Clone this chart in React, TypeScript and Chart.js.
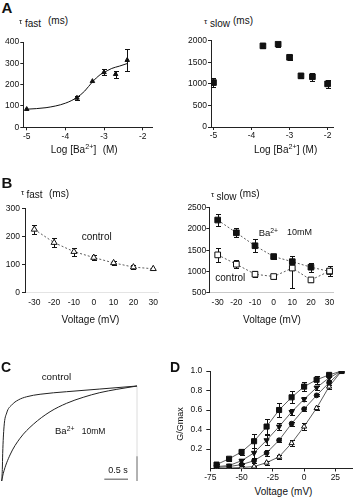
import React, { useEffect, useRef } from 'react';
import { Chart, registerables } from 'chart.js';

Chart.register(...registerables);

// ---------- Panel A (left): tau fast vs log[Ba2+]
const A_FAST_CONC = [-5, -3.7, -3.3, -3, -2.7, -2.4];
const A_FAST_TAU = [85, 138, 216, 258, 249, 315];
const A_FAST_ERR = [0, 10, 0, 15, 16, 50];
const A_FIT_CONC = [-5, -4.5, -4, -3.7, -3.5, -3.3, -3.1, -3, -2.8, -2.6, -2.4];
const A_FIT_TAU = [85, 92, 113, 140, 170, 213, 247, 257, 276, 287, 299];
const A_X_TICKS = [-5, -4, -3, -2];
const A_FAST_Y_TICKS = [0, 100, 200, 300, 400];

// ---------- Panel A (right): tau slow vs log[Ba2+]
const A_SLOW_CONC = [-5, -3.7, -3.3, -3, -2.7, -2.4, -2];
const A_SLOW_TAU = [1030, 1880, 1920, 1615, 1185, 1165, 1000];
const A_SLOW_ERR = [110, 40, 55, 60, 40, 95, 85];
const A_SLOW_Y_TICKS = [0, 500, 1000, 1500, 2000];

// ---------- Panel B: voltage dependence
const B_VOLT = [-30, -20, -10, 0, 10, 20, 30];
const B_FAST_CTRL = [225, 178, 146, 125, 106, 91, 85];
const B_FAST_CTRL_ERR = [17, 16, 14, 10, 8, 6, 0];
const B_SLOW_BA = [2210, 1910, 1605, 1350, 1230, 1100, 1000];
const B_SLOW_BA_ERR = [150, 110, 150, 60, 130, 110, 0];
const B_SLOW_CTRL = [1390, 1170, 935, 880, 1080, 800, 1010];
const B_SLOW_CTRL_ERR: (number | number[])[] = [165, 100, 65, 60, [480, 70], 40, 115];
const B_X_TICKS = [-30, -20, -10, 0, 10, 20, 30];
const B_FAST_Y_TICKS = [0, 100, 200, 300];
const B_SLOW_Y_TICKS = [500, 1000, 1500, 2000, 2500];

// ---------- Panel C: normalized current traces (time in s)
const C_CTRL_T = [0, 0.013, 0.021, 0.049, 0.105, 0.211, 0.35, 0.527, 0.81, 1.37, 2.07, 2.855];
const C_CTRL_I = [0, 0.12, 0.29, 0.57, 0.716, 0.8, 0.853, 0.887, 0.913, 0.94, 0.968, 1.0];
const C_BA_T = [0, 0.034, 0.175, 0.386, 0.667, 1.02, 1.37, 1.72, 2.07, 2.43, 2.855];
const C_BA_I = [0, 0.081, 0.274, 0.449, 0.597, 0.729, 0.818, 0.881, 0.93, 0.965, 1.0];
const C_SCALE_T = [2.165, 2.665];
const C_SCALE_I = [0.018, 0.018];
const C_END_T = [2.855, 2.855];
const C_END_I = [0, 1];
const C_END_DARK_I = [0, 0.26];

// ---------- Panel D: G/Gmax vs voltage
const D_VOLT = [-70, -60, -50, -40, -30, -20, -10, 0, 10, 20, 30];
const D_SQUARE = [0.04, 0.1, 0.17, 0.28, 0.43, 0.6, 0.73, 0.84, 0.91, 0.96, 1.0];
const D_SQUARE_ERR = [0.01, 0.02, 0.03, 0.07, 0.08, 0.07, 0.06, 0.05, 0.04, 0.02, 0];
const D_INVTRI = [0.02, 0.03, 0.08, 0.16, 0.29, 0.43, 0.58, 0.71, 0.83, 0.93, 1.0];
const D_INVTRI_ERR = [0, 0.01, 0.02, 0.05, 0.05, 0.04, 0.03, 0.02, 0.02, 0.02, 0];
const D_CIRCLE = [0.01, 0.02, 0.04, 0.08, 0.16, 0.29, 0.46, 0.61, 0.75, 0.88, 1.0];
const D_CIRCLE_ERR = [0, 0, 0.01, 0.02, 0.03, 0.02, 0.02, 0.02, 0.01, 0.02, 0];
const D_OPENTRI = [0, 0.005, 0.01, 0.02, 0.06, 0.12, 0.26, 0.43, 0.62, 0.84, 1.0];
const D_OPENTRI_ERR = [0, 0, 0, 0.01, 0.02, 0.02, 0.03, 0.04, 0.02, 0.02, 0];
const D_X_TICKS = [-75, -50, -25, 0, 25];
const D_Y_TICKS = [0.2, 0.4, 0.6, 0.8, 1.0];

const FONT = "'Liberation Sans', Arial, Helvetica, sans-serif";
const INK = '#111';

type Box = { x: number; y: number; w: number; h: number };
type Plot = { l: number; t: number; r: number; b: number };

const pts = (xs: number[], ys: number[]) => xs.map((x, i) => ({ x, y: ys[i] }));

const errorBars = {
  id: 'errorBars',
  beforeDatasetsDraw(chart: any) {
    const ctx = chart.ctx;
    const xs = chart.scales.x;
    const ys = chart.scales.y;
    chart.data.datasets.forEach((ds: any) => {
      if (!ds.errors) return;
      ctx.save();
      ctx.strokeStyle = ds.errorColor || INK;
      ctx.lineWidth = 1;
      const cap = ds.capHalf ?? 2.5;
      ds.data.forEach((p: any, j: number) => {
        const e = ds.errors[j];
        if (!e) return;
        const lo = Array.isArray(e) ? e[0] : e;
        const hi = Array.isArray(e) ? e[1] : e;
        const x = Math.round(xs.getPixelForValue(p.x)) + 0.5;
        const y1 = Math.round(ys.getPixelForValue(p.y - lo)) + 0.5;
        const y2 = Math.round(ys.getPixelForValue(p.y + hi)) + 0.5;
        ctx.beginPath();
        ctx.moveTo(x, y1);
        ctx.lineTo(x, y2);
        ctx.moveTo(x - cap, y1);
        ctx.lineTo(x + cap, y1);
        ctx.moveTo(x - cap, y2);
        ctx.lineTo(x + cap, y2);
        ctx.stroke();
      });
      ctx.restore();
    });
  },
};

function axis(o: {
  min: number; max: number; ticks: number[]; fit: number; horiz: boolean;
  tickLen?: number; pad?: number; line?: string; tickColor?: string; fmt?: (v: number) => string;
}) {
  const tl = o.tickLen ?? 3;
  return {
    type: 'linear',
    min: o.min,
    max: o.max,
    afterBuildTicks: (s: any) => { s.ticks = o.ticks.map((v) => ({ value: v })); },
    afterFit: (s: any) => { if (o.horiz) s.height = o.fit; else s.width = o.fit; },
    grid: {
      display: true, drawOnChartArea: false, drawTicks: tl > 0, tickLength: tl,
      color: o.tickColor ?? '#222', lineWidth: 1,
    },
    border: { display: true, color: o.line ?? '#222', width: 1 },
    ticks: {
      autoSkip: false, maxRotation: 0, minRotation: 0, padding: o.pad ?? 1, color: INK,
      font: { family: FONT, size: 8.5 },
      callback: (v: any) => (o.fmt ? o.fmt(Number(v)) : String(v)),
    },
  };
}

function baseOptions(box: Box, plot: Plot, x: any, y: any) {
  return {
    responsive: false,
    animation: false,
    devicePixelRatio: 1,
    events: [],
    layout: { padding: { top: plot.t - box.y, right: box.x + box.w - plot.r, left: 0, bottom: 0 } },
    plugins: { legend: { display: false }, tooltip: { enabled: false } },
    scales: { x, y },
  };
}

function ChartCanvas({ box, make }: { box: Box; make: () => any }) {
  const ref = useRef<HTMLCanvasElement>(null);
  useEffect(() => {
    const chart = new Chart(ref.current as HTMLCanvasElement, make());
    return () => chart.destroy();
  }, []);
  return (
    <canvas
      ref={ref}
      width={box.w}
      height={box.h}
      style={{ position: 'absolute', left: box.x, top: box.y, width: box.w, height: box.h }}
    />
  );
}

function marker(xs: number[], ys: number[], errs: any[] | null, style: string, r: number, filled: boolean, extra: any = {}) {
  return {
    data: pts(xs, ys),
    errors: errs,
    showLine: false,
    pointStyle: style,
    pointRadius: r,
    pointBackgroundColor: filled ? INK : '#fff',
    pointBorderColor: INK,
    pointBorderWidth: 1,
    borderColor: '#333',
    borderWidth: 0.8,
    ...extra,
  };
}

// ---------- Chart configs
const boxAL: Box = { x: 0, y: 30, w: 170, h: 115 };
const plotAL: Plot = { l: 23.3, t: 42, r: 152.7, b: 127.3 };
const makeAL = () => ({
  type: 'scatter',
  data: {
    datasets: [
      marker(A_FAST_CONC, A_FAST_TAU, A_FAST_ERR, 'triangle', 2.6, true),
      { data: pts(A_FIT_CONC, A_FIT_TAU), showLine: true, pointRadius: 0, borderColor: INK, borderWidth: 1, cubicInterpolationMode: 'monotone' },
    ],
  },
  options: baseOptions(boxAL, plotAL,
    axis({ min: -5.088, max: -1.741, ticks: A_X_TICKS, fit: boxAL.y + boxAL.h - plotAL.b, horiz: true }),
    axis({ min: 0, max: 400, ticks: A_FAST_Y_TICKS, fit: plotAL.l - boxAL.x, horiz: false, pad: 1 })),
  plugins: [errorBars],
});

const boxAR: Box = { x: 180, y: 30, w: 170, h: 115 };
const plotAR: Plot = { l: 211, t: 40.7, r: 333.7, b: 127 };
const makeAR = () => ({
  type: 'scatter',
  data: { datasets: [marker(A_SLOW_CONC, A_SLOW_TAU, A_SLOW_ERR, 'rect', 4, true)] },
  options: baseOptions(boxAR, plotAR,
    axis({ min: -5.065, max: -1.84, ticks: A_X_TICKS, fit: boxAR.y + boxAR.h - plotAR.b, horiz: true }),
    axis({ min: 0, max: 2000, ticks: A_SLOW_Y_TICKS, fit: plotAR.l - boxAR.x, horiz: false, pad: 1 })),
  plugins: [errorBars],
});

const boxBL: Box = { x: 0, y: 195, w: 170, h: 120 };
const plotBL: Plot = { l: 25, t: 208.3, r: 158, b: 292.7 };
const makeBL = () => ({
  type: 'scatter',
  data: {
    datasets: [
      marker(B_VOLT, B_FAST_CTRL, B_FAST_CTRL_ERR, 'triangle', 3.5, false, { showLine: true, borderDash: [2, 2] }),
    ],
  },
  options: baseOptions(boxBL, plotBL,
    axis({ min: -34.7, max: 32.4, ticks: B_X_TICKS, fit: boxBL.y + boxBL.h - plotBL.b, horiz: true, tickLen: 0, pad: 5, line: '#e4e4e4' }),
    axis({ min: 0, max: 300, ticks: B_FAST_Y_TICKS, fit: plotBL.l - boxBL.x, horiz: false, pad: 2 })),
  plugins: [errorBars],
});

const boxBR: Box = { x: 180, y: 195, w: 170, h: 120 };
const plotBR: Plot = { l: 209.3, t: 207.7, r: 333.7, b: 292.7 };
const makeBR = () => ({
  type: 'scatter',
  data: {
    datasets: [
      marker(B_VOLT, B_SLOW_CTRL, B_SLOW_CTRL_ERR, 'rect', 4, false, { showLine: true, borderDash: [2, 2] }),
      marker(B_VOLT, B_SLOW_BA, B_SLOW_BA_ERR, 'rect', 4, true, { showLine: true, borderDash: [2, 2] }),
    ],
  },
  options: baseOptions(boxBR, plotBR,
    axis({ min: -34.5, max: 32.2, ticks: B_X_TICKS, fit: boxBR.y + boxBR.h - plotBR.b, horiz: true, tickLen: 0, pad: 5, line: '#c8c8c8' }),
    axis({ min: 500, max: 2500, ticks: B_SLOW_Y_TICKS, fit: plotBR.l - boxBR.x, horiz: false, pad: 0 })),
  plugins: [errorBars],
});

const boxC: Box = { x: 0, y: 370, w: 150, h: 120 };
const plotC: Plot = { l: 1.7, t: 386, r: 137, b: 481 };
const makeC = () => ({
  type: 'scatter',
  data: {
    datasets: [
      { data: pts(C_CTRL_T, C_CTRL_I), showLine: true, pointRadius: 0, borderColor: '#222', borderWidth: 1, cubicInterpolationMode: 'monotone', clip: 6 },
      { data: pts(C_BA_T, C_BA_I), showLine: true, pointRadius: 0, borderColor: '#222', borderWidth: 1, cubicInterpolationMode: 'monotone', clip: 6 },
      { data: pts(C_SCALE_T, C_SCALE_I), showLine: true, pointRadius: 0, borderColor: '#8a8a8a', borderWidth: 1.6, clip: 6 },
      { data: pts(C_END_T, C_END_DARK_I), showLine: true, pointRadius: 0, borderColor: '#777', borderWidth: 1, clip: 6 },
      { data: pts(C_END_T, C_END_I), showLine: true, pointRadius: 0, borderColor: '#dcdcdc', borderWidth: 1, clip: 6 },
    ],
  },
  options: {
    responsive: false,
    animation: false,
    devicePixelRatio: 1,
    events: [],
    layout: { padding: { left: plotC.l - boxC.x, top: plotC.t - boxC.y, right: boxC.x + boxC.w - plotC.r, bottom: boxC.y + boxC.h - plotC.b } },
    plugins: { legend: { display: false }, tooltip: { enabled: false } },
    scales: {
      x: { type: 'linear', display: false, min: 0, max: 2.855 },
      y: { type: 'linear', display: false, min: 0, max: 1 },
    },
  },
});

const boxD: Box = { x: 180, y: 360, w: 177, h: 125 };
const plotD: Plot = { l: 210.3, t: 371, r: 355, b: 468.5 };
const makeD = () => ({
  type: 'scatter',
  data: {
    datasets: [
      marker(D_VOLT, D_SQUARE, D_SQUARE_ERR, 'rect', 3.6, true, { showLine: true }),
      marker(D_VOLT, D_INVTRI, D_INVTRI_ERR, 'triangle', 3, true, { showLine: true, pointRotation: 180 }),
      marker(D_VOLT, D_CIRCLE, D_CIRCLE_ERR, 'circle', 2.4, true, { showLine: true }),
      marker(D_VOLT, D_OPENTRI, D_OPENTRI_ERR, 'triangle', 3, false, { showLine: true }),
    ],
  },
  options: baseOptions(boxD, plotD,
    axis({ min: -75, max: 38.3, ticks: D_X_TICKS, fit: boxD.y + boxD.h - plotD.b, horiz: true, tickLen: 3, pad: 1 }),
    axis({ min: 0, max: 1, ticks: D_Y_TICKS, fit: plotD.l - boxD.x, horiz: false, tickLen: 4, pad: 4, fmt: (v) => v.toFixed(1) })),
  plugins: [errorBars],
});

// ---------- HTML text
function T({ x, y, size = 10, bold = false, anchor = 'start', children }: any) {
  return (
    <div
      style={{
        position: 'absolute', left: x, top: y - 0.8465 * size, fontSize: size, lineHeight: 1,
        whiteSpace: 'nowrap', fontWeight: bold ? 'bold' : 'normal', color: INK,
        transform: anchor === 'middle' ? 'translateX(-50%)' : undefined,
      }}
    >
      {children}
    </div>
  );
}
const Sup = ({ children }: any) => (
  <span style={{ fontSize: '0.72em', position: 'relative', top: '-0.5em' }}>{children}</span>
);

export default function App() {
  return (
    <div
      style={{
        position: 'absolute', left: 0, top: 0, width: 357, height: 499, background: '#fff',
        overflow: 'hidden', fontFamily: FONT,
      }}
    >
      <ChartCanvas box={boxAL} make={makeAL} />
      <ChartCanvas box={boxAR} make={makeAR} />
      <ChartCanvas box={boxBL} make={makeBL} />
      <ChartCanvas box={boxBR} make={makeBR} />
      <ChartCanvas box={boxC} make={makeC} />
      <ChartCanvas box={boxD} make={makeD} />

      {/* Panel letters */}
      <T x={1.5} y={12.7} size={15} bold>A</T>
      <T x={1.5} y={187.7} size={15} bold>B</T>
      <T x={1} y={371.7} size={14} bold>C</T>
      <T x={170} y={371.7} size={14} bold>D</T>

      {/* A titles */}
      <T x={19} y={24.3} size={8}>τ</T>
      <T x={25} y={27.3} size={10}>fast</T>
      <T x={48} y={24.5} size={10}>(ms)</T>
      <T x={204} y={24.3} size={8}>τ</T>
      <T x={210} y={27.3} size={10}>slow</T>
      <T x={233} y={24.5} size={10}>(ms)</T>
      <T x={50.7} y={153.3} size={10}>Log [Ba<Sup>2+</Sup>]</T>
      <T x={102.7} y={153.3} size={10}>(M)</T>
      <T x={254} y={153.3} size={10}>Log [Ba<Sup>2+</Sup>] (M)</T>

      {/* B titles */}
      <T x={21} y={196} size={8}>τ</T>
      <T x={26.5} y={198.5} size={10}>fast</T>
      <T x={49} y={197} size={10}>(ms)</T>
      <T x={211} y={198} size={8}>τ</T>
      <T x={216.5} y={200.5} size={10}>slow</T>
      <T x={239.5} y={197.5} size={10}>(ms)</T>
      <T x={90.5} y={323} size={10} anchor="middle">Voltage (mV)</T>
      <T x={272} y={323} size={10} anchor="middle">Voltage (mV)</T>
      <T x={81.7} y={240} size={10}>control</T>
      <T x={258.7} y={236} size={9.5}>Ba<Sup>2+</Sup></T>
      <T x={287} y={236} size={9}>10mM</T>
      <T x={215.3} y={281} size={10}>control</T>

      {/* C labels */}
      <T x={41.7} y={380} size={9.8}>control</T>
      <T x={55} y={434.5} size={9.5}>Ba<Sup>2+</Sup></T>
      <T x={81.7} y={434.5} size={8.5}>10mM</T>
      <T x={108.3} y={474} size={9}>0.5 s</T>

      {/* D labels */}
      <div
        style={{
          position: 'absolute', left: 180, top: 424, fontSize: 9, lineHeight: 1, color: INK,
          whiteSpace: 'nowrap', transform: 'translate(-50%, -50%) rotate(-90deg)',
        }}
      >
        G/Gmax
      </div>
      <T x={283.5} y={495} size={10} anchor="middle">Voltage (mV)</T>
    </div>
  );
}
